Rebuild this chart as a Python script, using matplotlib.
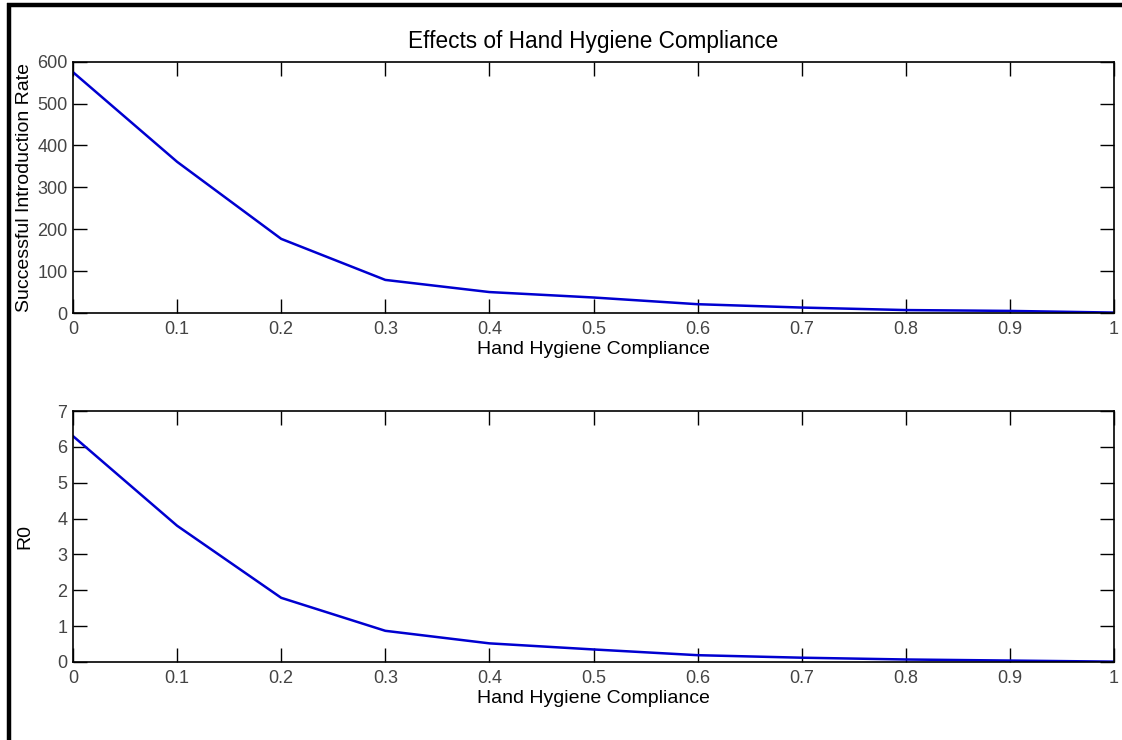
import matplotlib
matplotlib.use("Agg")
import matplotlib.pyplot as plt
from matplotlib.lines import Line2D

compliance = [0.0, 0.1, 0.2, 0.3, 0.4, 0.5, 0.6, 0.7, 0.8, 0.9, 1.0]
intro_rate = [575, 361, 177, 79, 50, 37, 21, 13, 7, 5, 1]
r0_values = [6.30, 3.80, 1.79, 0.87, 0.52, 0.35, 0.19, 0.12, 0.07, 0.04, 0.01]

xticks = [0, 0.1, 0.2, 0.3, 0.4, 0.5, 0.6, 0.7, 0.8, 0.9, 1]
xticklabels = ["0", "0.1", "0.2", "0.3", "0.4", "0.5", "0.6", "0.7", "0.8", "0.9", "1"]
yticks_top = [0, 100, 200, 300, 400, 500, 600]
yticks_bot = [0, 1, 2, 3, 4, 5, 6, 7]

plt.rcParams['font.family'] = ['Liberation Sans', 'DejaVu Sans']
TICK_FS = 13
LAB_FS = 14
TITLE_FS = 16.3
W, H = 1122, 740
fig = plt.figure(figsize=(W / 100, H / 100), dpi=100)

line_color = '#0000d0'
tick_color = '#444444'

def style(ax, yticks):
    ax.set_xlim(0, 1)
    ax.set_xticks(xticks)
    ax.set_xticklabels(xticklabels)
    ax.set_yticks(yticks)
    ax.set_ylim(yticks[0], yticks[-1])
    ax.tick_params(direction='in', length=10, width=1, top=True, right=True,
                   labelsize=TICK_FS, labelcolor=tick_color, pad=4)
    ax.tick_params(axis='x', pad=6)
    for s in ax.spines.values():
        s.set_linewidth(1.2)
    ax.set_xlabel('Hand Hygiene Compliance', fontsize=LAB_FS, labelpad=2)

ax1 = fig.add_axes([73 / W, 1 - 313 / H, (1114 - 73) / W, (313 - 61.7) / H])
ax1.plot(compliance, intro_rate, color=line_color, lw=1.8)
style(ax1, yticks_top)
ax1.set_ylabel('Successful Introduction Rate', fontsize=LAB_FS, labelpad=3)
ax1.set_title('Effects of Hand Hygiene Compliance', fontsize=TITLE_FS, pad=10)

ax2 = fig.add_axes([73 / W, 1 - 662 / H, (1114 - 73) / W, (662 - 411) / H])
ax2.plot(compliance, r0_values, color=line_color, lw=1.8)
style(ax2, yticks_bot)
ax2.set_ylabel('R0', fontsize=LAB_FS, labelpad=17)

# black frame on left and top edges
fig.add_artist(Line2D([9 / W, 9 / W], [0, 1 - 3 / H], transform=fig.transFigure,
                      color='black', lw=3.2, solid_capstyle='butt'))
fig.add_artist(Line2D([7 / W, 1], [1 - 5.3 / H, 1 - 5.3 / H], transform=fig.transFigure,
                      color='black', lw=3.2, solid_capstyle='butt'))

fig.savefig('out.png', dpi=100)
